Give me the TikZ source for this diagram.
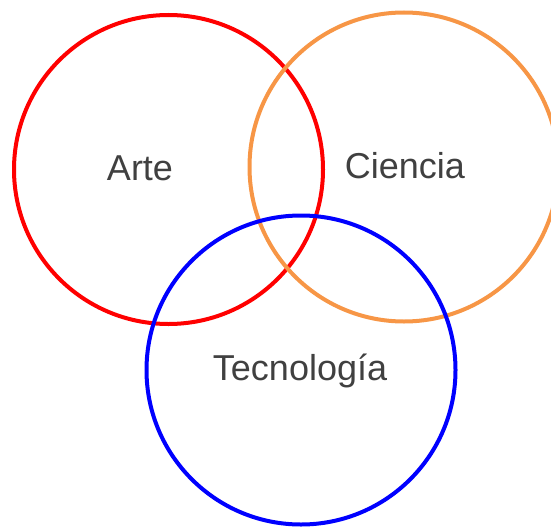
\documentclass[tikz,border=0pt]{standalone}
\usepackage{fontspec}
\setmainfont{Liberation Sans}
\definecolor{ringred}{HTML}{FF0000}
\definecolor{ringorange}{HTML}{F79646}
\definecolor{ringblue}{HTML}{0000FF}
\definecolor{labelgray}{HTML}{404040}
\begin{document}
\begin{tikzpicture}[x=1pt,y=-1pt,
  ring/.style={draw, line width=4pt, circle, minimum size=309pt, inner sep=0pt},
  lbl/.style={text=labelgray, font=\fontsize{36}{43}\selectfont, anchor=base, inner sep=0pt}]
\useasboundingbox (0,0) rectangle (551,527);
\node[ring, draw=ringred] (arte) at (168.5,169.5) {};
\node[ring, draw=ringorange] (ciencia) at (404,167) {};
\node[ring, draw=ringblue] (tecno) at (301,370) {};
\node[lbl] (tarte) at (140,180) {Arte};
\node[lbl] (tciencia) at (405,178) {Ciencia};
\node[lbl] (ttecno) at (300,380) {Tecnología};
\end{tikzpicture}
\end{document}
